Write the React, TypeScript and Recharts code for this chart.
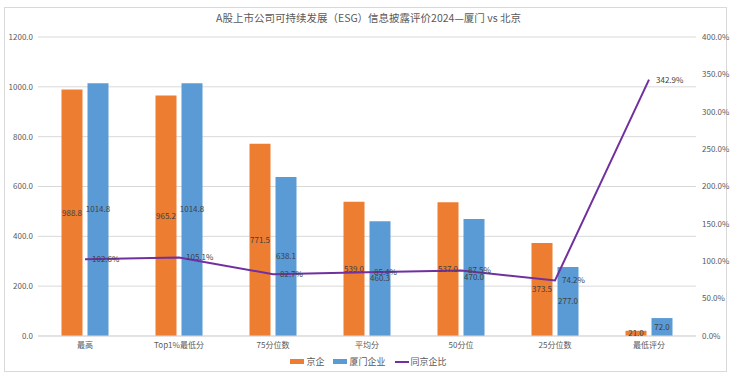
import React from 'react';
import {
  ComposedChart,
  Bar,
  Line,
  XAxis,
  YAxis,
  CartesianGrid,
  LabelList,
} from 'recharts';

const categories = ['最高', 'Top1%最低分', '75分位数', '平均分', '50分位', '25分位数', '最低评分'];
const beijing = [988.8, 965.2, 771.5, 539.0, 537.0, 373.5, 21.0];
const xiamen = [1014.8, 1014.8, 638.1, 460.3, 470.0, 277.0, 72.0];
const ratio = [102.6, 105.1, 82.7, 85.4, 87.5, 74.2, 342.9];
const leftTicks = [0, 200, 400, 600, 800, 1000, 1200];
const rightTicks = [0, 50, 100, 150, 200, 250, 300, 350, 400];

const data = categories.map((name, i) => ({
  name,
  beijing: beijing[i],
  xiamen: xiamen[i],
  ratio: ratio[i],
}));

const FONT = '"Noto Sans CJK SC", "Noto Sans", sans-serif';
const TEXT = '#595959';

const legendItems = [
  { label: '京企', color: '#ED7D31', type: 'rect' },
  { label: '厦门企业', color: '#5B9BD5', type: 'rect' },
  { label: '同京企比', color: '#7030A0', type: 'line' },
];

const ChartLegend = () => (
  <div
    style={{
      position: 'absolute',
      left: 0,
      top: 355,
      width: 737,
      display: 'flex',
      justifyContent: 'center',
      alignItems: 'center',
      fontFamily: FONT,
      fontSize: 9,
      color: TEXT,
      gap: 9,
    }}
  >
    {legendItems.map((it) => (
      <div key={it.label} style={{ display: 'flex', alignItems: 'center' }}>
        <span
          style={{
            display: 'inline-block',
            width: 14,
            height: it.type === 'rect' ? 5 : 2,
            background: it.color,
            marginRight: 2,
          }}
        />
        <span>{it.label}</span>
      </div>
    ))}
  </div>
);

const labelStyle = { fontSize: 8, fill: '#404040', fontFamily: FONT };

export default function App() {
  return (
    <div
      style={{
        position: 'absolute',
        left: 0,
        top: 0,
        width: 737,
        height: 384,
        background: '#fff',
        fontFamily: FONT,
      }}
    >
      <div
        style={{
          position: 'absolute',
          left: 4,
          top: 7,
          width: 723,
          height: 365,
          border: '1px solid #D9D9D9',
          boxSizing: 'border-box',
        }}
      />
      <div
        style={{
          position: 'absolute',
          left: 0,
          top: 10,
          width: 737,
          textAlign: 'center',
          fontSize: 10.5,
          color: TEXT,
        }}
      >
        A股上市公司可持续发展（ESG）信息披露评价2024—厦门 vs 北京
      </div>
      <ComposedChart
        width={737}
        height={384}
        data={data}
        margin={{ top: 37, right: 0, bottom: 0, left: 0 }}
        barCategoryGap="25%"
        barGap={5}
        style={{ position: 'absolute', left: 0, top: 0 }}
      >
        <CartesianGrid vertical={false} stroke="#D9D9D9" yAxisId="left" />
        <XAxis
          dataKey="name"
          tickLine={false}
          axisLine={{ stroke: '#D9D9D9' }}
          tick={{ fontSize: 8, fill: TEXT, fontFamily: FONT }}
          tickSize={0}
          tickMargin={6}
          interval={0}
          height={48}
        />
        <YAxis
          yAxisId="left"
          orientation="left"
          width={38}
          domain={[0, 1200]}
          ticks={leftTicks}
          tickFormatter={(v: number) => v.toFixed(1)}
          axisLine={false}
          tickLine={false}
          tickSize={0}
          tickMargin={5}
          tick={{ fontSize: 8, fill: TEXT, fontFamily: FONT }}
        />
        <YAxis
          yAxisId="right"
          orientation="right"
          width={41}
          domain={[0, 400]}
          ticks={rightTicks}
          tickFormatter={(v: number) => `${v.toFixed(1)}%`}
          axisLine={false}
          tickLine={false}
          tickSize={0}
          tickMargin={6}
          tick={{ fontSize: 8, fill: TEXT, fontFamily: FONT, textAnchor: 'start' }}
        />
        <Bar yAxisId="left" dataKey="beijing" name="京企" fill="#ED7D31" isAnimationActive={false}>
          <LabelList
            dataKey="beijing"
            position="center"
            formatter={(v: number) => v.toFixed(1)}
            style={labelStyle}
          />
        </Bar>
        <Bar yAxisId="left" dataKey="xiamen" name="厦门企业" fill="#5B9BD5" isAnimationActive={false}>
          <LabelList
            dataKey="xiamen"
            position="center"
            formatter={(v: number) => v.toFixed(1)}
            style={labelStyle}
          />
        </Bar>
        <Line
          yAxisId="right"
          dataKey="ratio"
          name="同京企比"
          stroke="#7030A0"
          strokeWidth={2}
          dot={false}
          type="linear"
          isAnimationActive={false}
        >
          <LabelList
            dataKey="ratio"
            position="right"
            offset={7}
            formatter={(v: number) => `${v.toFixed(1)}%`}
            style={labelStyle}
          />
        </Line>
      </ComposedChart>
      <ChartLegend />
    </div>
  );
}
